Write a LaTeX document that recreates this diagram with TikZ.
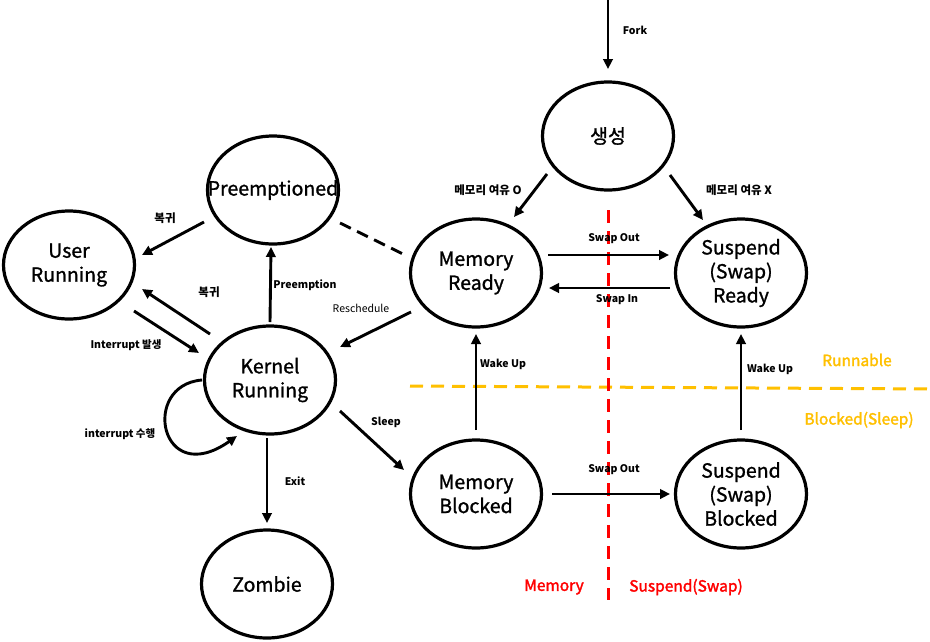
\documentclass[tikz,border=0pt]{standalone}
\usepackage{fontspec}
\setmainfont{Noto Sans CJK KR}
\newfontfamily\semibold[FakeBold=1.2]{Noto Sans CJK KR}
\newfontfamily\zonebold[FakeBold=2]{Noto Sans CJK KR}
\usetikzlibrary{shapes.geometric,arrows.meta,calc}
\definecolor{gold}{HTML}{FFC000}
\definecolor{pred}{HTML}{FF0000}
\begin{document}
\begin{tikzpicture}[x=1pt,y=-1pt,
  st/.style={draw, ellipse, line width=3.2pt, minimum width=131pt, minimum height=108pt, inner sep=0pt},
  stxt/.style={font=\semibold\fontsize{19.5}{24}\selectfont, align=center, inner sep=0pt},
  arr/.style={line width=2.9pt, -{Triangle[length=10pt,width=9.5pt]}},
  el/.style={font=\bfseries\fontsize{10.5}{12}\selectfont, inner sep=0pt},
  elk/.style={font=\bfseries\fontsize{11.5}{13}\selectfont, inner sep=0pt},
  elr/.style={font=\fontsize{10.5}{12}\selectfont, inner sep=0pt},
  zone/.style={font=\zonebold\fontsize{15.5}{18}\selectfont, inner sep=0pt},
]
\fill[white] (0,0) rectangle (930,641);
\useasboundingbox (0,0) rectangle (930,641);

% region separators
\draw[gold, line width=3pt, dash pattern=on 13pt off 8pt] (410,386) -- (930,389);
\draw[pred, line width=3pt, dash pattern=on 13pt off 8pt] (608,210) -- (608,600);

% states
\node[st, label={[stxt]center:생성}] (sc) at (608,136) {};
\node[st, label={[stxt]center:{Memory\\Ready}}] (mr) at (476,273) {};
\node[st, label={[stxt]center:{Suspend\\(Swap)\\Ready}}] (sr) at (741,273) {};
\node[st, label={[stxt]center:{Memory\\Blocked}}] (mb) at (476,494) {};
\node[st, label={[stxt]center:{Suspend\\(Swap)\\Blocked}}] (sb) at (741,494) {};
\node[st, label={[stxt]center:Preemptioned}] (pr) at (273,190) {};
\node[st, label={[stxt]center:{User\\Running}}] (ur) at (69,265) {};
\node[st, label={[stxt]center:{Kernel\\Running}}] (kr) at (270,380) {};
\node[st, label={[stxt]center:Zombie}] (zb) at (267,584) {};

\coordinate (forktop) at (608,0);

% connectors
\draw[arr] (forktop) -- ($(sc)+(0,-67)$);
\draw[arr] ($(sc)+(-61,38)$) -- ($(mr)+(38,-56)$);
\draw[arr] ($(sc)+(62,39)$) -- ($(sr)+(-38,-53)$);
\draw[arr] ($(mr)+(72,-18)$) -- ($(sr)+(-72,-18)$);
\draw[arr] ($(sr)+(-71,15)$) -- ($(mr)+(73,15)$);
\draw[arr] ($(mb)+(0,-64)$) -- ($(mr)+(0,61)$);
\draw[arr] ($(sb)+(0,-64)$) -- ($(sr)+(0,61)$);
\draw[arr] ($(mb)+(76,0)$) -- ($(sb)+(-71,0)$);
\draw[arr] ($(mr)+(-65,39)$) -- ($(kr)+(70,-33)$);
\draw[line width=2.9pt, dash pattern=on 12pt off 7pt] ($(pr)+(67,33)$) -- ($(mr)+(-69,-17)$);
\draw[arr] ($(kr)+(0,-58)$) -- ($(pr)+(-2,57)$);
\draw[arr] ($(pr)+(-69,32)$) -- ($(ur)+(73,-10)$);
\draw[arr] ($(kr)+(-60,-46)$) -- ($(ur)+(73,24)$);
\draw[arr] ($(ur)+(65,46)$) -- ($(kr)+(-71,-27)$);
\draw[arr] ($(kr)+(-68,0)$) .. controls ($(kr)+(-130,5)$) and ($(kr)+(-110,110)$) .. ($(kr)+(-33,56)$);
\draw[arr] ($(kr)+(70,31)$) -- ($(mb)+(-72,-24)$);
\draw[arr] ($(kr)+(-3,58)$) -- ($(zb)+(0,-61)$);

% connector labels
\node[el] (lfork) at (635,30) {Fork};
\node[elk] (lmo) at (488,190) {메모리 여유 O};
\node[elk] (lmx) at (739,190) {메모리 여유 X};
\node[el] (lso1) at (614,239) {Swap Out};
\node[el] (lsi) at (617,300) {Swap In};
\node[el] (lwu1) at (503,364) {Wake Up};
\node[el] (lwu2) at (770,369) {Wake Up};
\node[el] (lso2) at (614,470) {Swap Out};
\node[elr] (lres) at (361,308) {Reschedule};
\node[el] (lpre) at (305,285) {Preemption};
\node[elk] (lbk1) at (165,218) {복귀};
\node[elk] (lbk2) at (209,292) {복귀};
\node[el] (lint) at (126,345) {Interrupt 발생};
\node[el] (lins) at (120,434) {interrupt 수행};
\node[el] (lslp) at (386,422) {Sleep};
\node[el] (lexit) at (295,481) {Exit};

% zone labels
\node[zone, text=gold] (zrun) at (857,360) {Runnable};
\node[zone, text=gold] (zblk) at (859,420) {Blocked(Sleep)};
\node[zone, text=pred] (zmem) at (554,587) {Memory};
\node[zone, text=pred] (zsus) at (686,587) {Suspend(Swap)};
\end{tikzpicture}
\end{document}
